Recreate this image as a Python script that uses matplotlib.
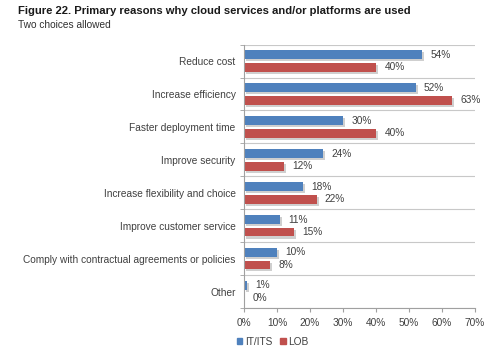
import numpy as np
import matplotlib
matplotlib.use("Agg")
import matplotlib.pyplot as plt
import matplotlib.patheffects as pe
from matplotlib.patches import Patch

CATEGORIES = [
    "Reduce cost",
    "Increase efficiency",
    "Faster deployment time",
    "Improve security",
    "Increase flexibility and choice",
    "Improve customer service",
    "Comply with contractual agreements or policies",
    "Other",
]
IT_ITS = [54, 52, 30, 24, 18, 11, 10, 1]
LOB = [40, 63, 40, 12, 22, 15, 8, 0]
X_TICKS = [0, 10, 20, 30, 40, 50, 60, 70]

BLUE = "#4F81BD"
RED = "#C0504D"
TEXT = "#404040"
FS = 7.3

plt.rcParams["font.family"] = ["Liberation Sans", "DejaVu Sans"]

fig = plt.figure(figsize=(5.0, 3.57), dpi=100)
ax = fig.add_axes([0.488, 0.137, 0.462, 0.738])

n = len(CATEGORIES)
y = np.arange(n)
h = 0.27
off = 0.19
shadow = [pe.SimplePatchShadow(offset=(1.5, -1.5), shadow_rgbFace="#b0b0b0", alpha=0.6), pe.Normal()]

b1 = ax.barh(y - off, IT_ITS, height=h, color=BLUE, path_effects=shadow)
b2 = ax.barh(y + off, LOB, height=h, color=RED, path_effects=shadow)

for bars, vals in ((b1, IT_ITS), (b2, LOB)):
    for bar, v in zip(bars, vals):
        ax.annotate(f"{v}%", (bar.get_width(), bar.get_y() + bar.get_height() / 2),
                    xytext=(6, 0), textcoords="offset points", va="center", ha="left",
                    fontsize=FS, color=TEXT)

ax.set_xlim(0, 70)
ax.set_ylim(n - 0.5, -0.5)
ax.set_xticks(X_TICKS)
ax.set_xticklabels([f"{t}%" for t in X_TICKS], fontsize=FS, color=TEXT)
ax.set_yticks(y)
ax.set_yticklabels(CATEGORIES, fontsize=FS, color=TEXT)
ax.tick_params(axis="y", length=0, pad=6)
ax.tick_params(axis="x", length=3, color="#a0a0a0", pad=4)

# gridlines between categories
ax.set_yticks(np.arange(-0.5, n, 1), minor=True)
ax.tick_params(axis="y", which="minor", length=3, color="#a0a0a0")
ax.grid(axis="y", which="minor", color="#c8c8c8", linewidth=0.8)
ax.set_axisbelow(True)

for s in ("top", "right"):
    ax.spines[s].set_visible(False)
for s in ("left", "bottom"):
    ax.spines[s].set_color("#a0a0a0")
    ax.spines[s].set_linewidth(0.8)

fig.text(0.036, 0.968, "Figure 22. Primary reasons why cloud services and/or platforms are used",
         fontsize=8.15, fontweight="bold", color="#1a1a1a", va="center")
fig.text(0.036, 0.93, "Two choices allowed", fontsize=FS, color="#303030", va="center")

handles = [Patch(color=BLUE), Patch(color=RED)]
fig.legend(handles=handles, labels=["IT/ITS", "LOB"], loc="center left",
           bbox_to_anchor=(0.455, 0.042), ncol=2, frameon=False, fontsize=FS,
           handlelength=0.55, handleheight=0.55, handletextpad=0.25, columnspacing=0.8,
           labelcolor=TEXT)

fig.savefig("out.png", dpi=100)
